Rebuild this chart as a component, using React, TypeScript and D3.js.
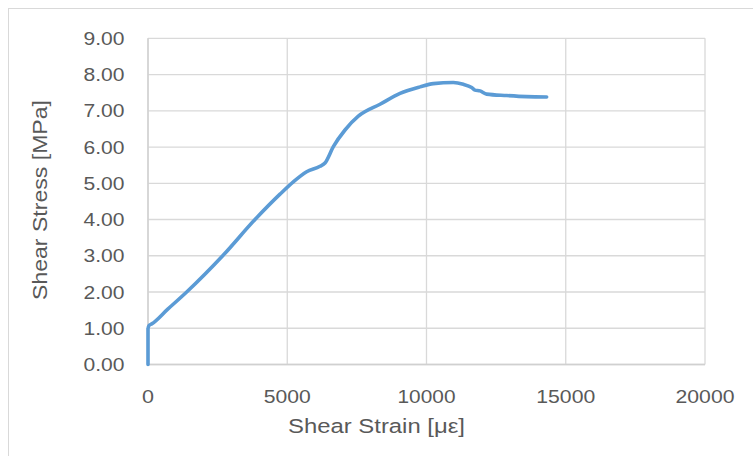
import React from "react";
import * as d3 from "d3";

const strain = [0, 0, 40, 133, 700, 1389, 2682, 3842, 4740, 5218, 5697, 6176, 6355, 6655, 7074, 7552, 8331, 9049, 9767, 10245, 10963, 11322, 11621, 11741, 11920, 12160, 12878, 13596, 14314];
const stress = [0, 1.0, 1.08, 1.12, 1.52, 2.0, 3.0, 4.0, 4.7, 5.04, 5.32, 5.47, 5.56, 6.01, 6.47, 6.85, 7.18, 7.48, 7.66, 7.75, 7.78, 7.73, 7.64, 7.57, 7.55, 7.46, 7.42, 7.39, 7.38];
const xTicks = [0, 5000, 10000, 15000, 20000];
const yTicks = [0, 1, 2, 3, 4, 5, 6, 7, 8, 9];
const xTickWidths = [12, 47, 58, 59, 59];
const xTitle = "Shear Strain [με]";
const yTitle = "Shear Stress [MPa]";

export default function App() {
  const x = d3.scaleLinear().domain([0, 20000]).range([148, 705]);
  const y = d3.scaleLinear().domain([0, 9]).range([364.5, 38.3]);
  const pts: [number, number][] = strain.map((s, i) => [s, stress[i]]);
  const line = d3
    .line<[number, number]>()
    .x((d) => x(d[0]))
    .y((d) => y(d[1]))
    .curve(d3.curveMonotoneX);
  const path = line(pts.slice(1)) || "";
  const startPath = `M${x(pts[0][0])},${y(pts[0][1])}L${x(pts[1][0])},${y(pts[1][1])}`;
  const textColor = "#595959";
  const font = "'Liberation Sans', Arial, sans-serif";
  return (
    <svg
      width={753}
      height={456}
      style={{ position: "absolute", left: 0, top: 0, background: "#fff" }}
    >
      <rect x={0} y={0} width={753} height={456} fill="#fff" />
      <rect x={8.5} y={8.5} width={770} height={470} fill="none" stroke="#d9d9d9" strokeWidth={1} />
      {yTicks.map((t) => (
        <line key={"gy" + t} x1={x(0)} x2={x(20000)} y1={y(t)} y2={y(t)} stroke="#d9d9d9" strokeWidth={1.3} />
      ))}
      {xTicks.map((t) => (
        <line key={"gx" + t} x1={x(t)} x2={x(t)} y1={y(0)} y2={y(9)} stroke="#d9d9d9" strokeWidth={1.3} />
      ))}
      <line x1={x(0)} x2={x(0)} y1={y(0)} y2={y(9)} stroke="#d0d0d0" strokeWidth={1.3} />
      <line x1={x(0)} x2={x(20000)} y1={y(0)} y2={y(0)} stroke="#d0d0d0" strokeWidth={1.3} />
      <path d={startPath + path.replace(/^M/, "L")} fill="none" stroke="#5b9bd5" strokeWidth={3.6} strokeLinejoin="round" strokeLinecap="round" />
      {yTicks.map((t) => (
        <text
          key={"ly" + t}
          x={124.5}
          y={y(t) + 6.6}
          textAnchor="end"
          fontFamily={font}
          fontSize={18.5}
          fill={textColor}
          textLength={41}
          lengthAdjust="spacingAndGlyphs"
        >
          {t.toFixed(2)}
        </text>
      ))}
      {xTicks.map((t, i) => (
        <text
          key={"lx" + t}
          x={x(t)}
          y={402.5}
          textAnchor="middle"
          fontFamily={font}
          fontSize={18.5}
          fill={textColor}
          textLength={xTickWidths[i]}
          lengthAdjust="spacingAndGlyphs"
        >
          {String(t)}
        </text>
      ))}
      <text
        x={376.5}
        y={433}
        textAnchor="middle"
        fontFamily={font}
        fontSize={20.5}
        fill={textColor}
        textLength={177}
        lengthAdjust="spacingAndGlyphs"
      >
        {xTitle}
      </text>
      <text
        transform="translate(47,200) rotate(-90)"
        textAnchor="middle"
        fontFamily={font}
        fontSize={21}
        fill={textColor}
        textLength={200}
        lengthAdjust="spacingAndGlyphs"
      >
        {yTitle}
      </text>
    </svg>
  );
}
